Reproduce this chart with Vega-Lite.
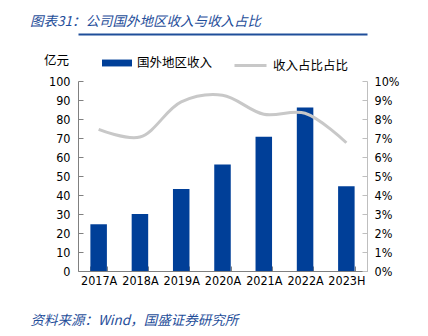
{
  "$schema": "https://vega.github.io/schema/vega-lite/v6.json",
  "width": 289,
  "height": 190,
  "autosize": {"type": "none"},
  "padding": {"left": 78, "top": 81, "right": 61, "bottom": 65},
  "background": "white",
  "config": {"view": {"stroke": null}},
  "title": {
    "text": "图表31：公司国外地区收入与收入占比",
    "anchor": "start",
    "frame": "group",
    "dx": -48,
    "offset": 6,
    "font": "Noto Sans CJK SC",
    "fontSize": 13.5,
    "fontStyle": "italic",
    "fontWeight": "normal",
    "color": "#1f4e9a"
  },
  "data": {
    "values": [
      {"year": "2017A", "revenue": 24.6, "share": 0.0745},
      {"year": "2018A", "revenue": 30.0, "share": 0.0705},
      {"year": "2019A", "revenue": 43.2, "share": 0.089},
      {"year": "2020A", "revenue": 56.1, "share": 0.0925},
      {"year": "2021A", "revenue": 70.7, "share": 0.0825},
      {"year": "2022A", "revenue": 86.0, "share": 0.083},
      {"year": "2023H", "revenue": 44.6, "share": 0.0675}
    ]
  },
  "layer": [
    {
      "mark": {"type": "bar", "color": "#003f98"},
      "encoding": {
        "x": {
          "field": "year",
          "type": "nominal",
          "sort": null,
          "scale": {"paddingInner": 0.6, "paddingOuter": 0.3},
          "axis": {
            "orient": "bottom",
            "labelAngle": 0,
            "tickBand": "extent",
            "tickSize": -5,
            "tickColor": "#808080",
            "domainColor": "#808080",
            "labelPadding": 8,
            "labelFont": "DejaVu Sans Condensed, Liberation Sans, sans-serif",
            "labelFontSize": 12.5,
            "labelColor": "#000000",
            "title": "资料来源：Wind，国盛证券研究所",
            "titleX": -48,
            "titleY": 49,
            "titleAlign": "left",
            "titleAnchor": "start",
            "titleBaseline": "middle",
            "titleFont": "Noto Sans CJK SC",
            "titleFontSize": 13.5,
            "titleFontStyle": "italic",
            "titleFontWeight": "normal",
            "titleColor": "#1f4e9a"
          }
        },
        "y": {
          "field": "revenue",
          "type": "quantitative",
          "scale": {"domain": [0, 100]},
          "axis": {
            "values": [0, 10, 20, 30, 40, 50, 60, 70, 80, 90, 100],
            "grid": false,
            "tickSize": -5,
            "tickColor": "#808080",
            "domainColor": "#808080",
            "labelPadding": 13,
            "labelFont": "DejaVu Sans Condensed, Liberation Sans, sans-serif",
            "labelFontSize": 12.5,
            "labelColor": "#000000",
            "title": "亿元",
            "titleAngle": 0,
            "titleX": -22,
            "titleY": -21,
            "titleAlign": "center",
            "titleBaseline": "middle",
            "titleFont": "Noto Sans CJK SC",
            "titleFontSize": 12.5,
            "titleFontWeight": "normal",
            "titleColor": "#000000"
          }
        },
        "fill": {
          "datum": "国外地区收入",
          "type": "nominal",
          "scale": {"range": ["#003f98"]},
          "legend": {
            "orient": "none",
            "legendX": 24,
            "legendY": -33,
            "direction": "horizontal",
            "title": null,
            "symbolType": "M-1,-0.23H1V0.23H-1Z",
            "symbolSize": 900,
            "symbolStrokeWidth": 0,
            "labelFont": "Noto Sans CJK SC",
            "labelFontSize": 12.5,
            "labelColor": "#000000",
            "labelOffset": 5
          }
        }
      }
    },
    {
      "mark": {"type": "line", "interpolate": "catmull-rom", "strokeWidth": 3, "color": "#c8c8c8"},
      "encoding": {
        "x": {
          "field": "year",
          "type": "nominal",
          "sort": null,
          "axis": {
            "orient": "top",
            "labels": false,
            "ticks": false,
            "domainColor": "#1f4e9a",
            "domainWidth": 2,
            "offset": 47,
            "title": null
          }
        },
        "y": {
          "field": "share",
          "type": "quantitative",
          "scale": {"domain": [0, 0.1]},
          "axis": {
            "orient": "right",
            "format": ".0%",
            "values": [0, 0.01, 0.02, 0.03, 0.04, 0.05, 0.06, 0.07, 0.08, 0.09, 0.1],
            "grid": false,
            "tickSize": -5,
            "tickColor": "#bfbfbf",
            "domainColor": "#bfbfbf",
            "labelPadding": 12,
            "labelFont": "DejaVu Sans Condensed, Liberation Sans, sans-serif",
            "labelFontSize": 12.5,
            "labelColor": "#000000",
            "title": null
          }
        },
        "stroke": {
          "datum": "收入占比占比",
          "type": "nominal",
          "scale": {"range": ["#c8c8c8"]},
          "legend": {
            "orient": "none",
            "legendX": 155,
            "legendY": -33,
            "direction": "horizontal",
            "title": null,
            "symbolType": "stroke",
            "symbolSize": 1024,
            "symbolStrokeWidth": 3,
            "labelFont": "Noto Sans CJK SC",
            "labelFontSize": 12.5,
            "labelColor": "#000000",
            "labelOffset": 5
          }
        }
      }
    }
  ],
  "resolve": {"scale": {"y": "independent"}, "axis": {"x": "independent"}}
}
